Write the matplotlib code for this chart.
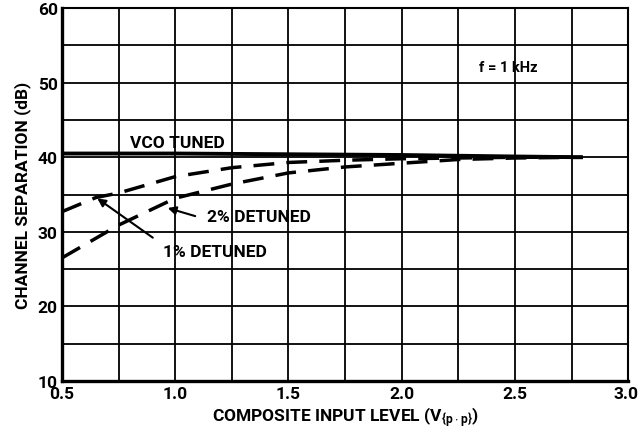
import matplotlib.pyplot as plt
import matplotlib.transforms as mtrans
import numpy as np

plt.rcParams['font.family'] = ['Roboto', 'DejaVu Sans']
plt.rcParams['mathtext.default'] = 'regular'

# values
vco_x = [0.5, 1.0, 1.5, 2.0, 2.5, 2.8]
vco_y = [40.5, 40.5, 40.4, 40.3, 40.1, 40.0]

det1_x = [0.5, 0.65, 0.75, 1.0, 1.25, 1.5, 1.75, 2.0, 2.25, 2.5, 2.8]
det1_y = [32.7, 34.6, 35.2, 37.4, 38.6, 39.3, 39.6, 39.8, 39.9, 40.0, 40.0]

det2_x = [0.5, 0.75, 1.0, 1.25, 1.5, 1.75, 2.0, 2.25, 2.5, 2.8]
det2_y = [26.5, 30.9, 34.5, 36.4, 37.9, 38.7, 39.2, 39.7, 39.9, 40.0]

fig, ax = plt.subplots(figsize=(6.39, 4.35), dpi=100)
fig.subplots_adjust(left=0.097, right=0.983, top=0.979, bottom=0.122)

ax.plot(vco_x, vco_y, color='black', lw=2.8, solid_capstyle='butt')
ax.plot(det1_x, det1_y, color='black', lw=2.5, dashes=(6, 3.5))
ax.plot(det2_x, det2_y, color='black', lw=2.5, dashes=(6, 3.5))

ax.set_xlim(0.5, 3.0)
ax.set_ylim(10, 60)
ax.set_xticks(np.arange(0.5, 3.01, 0.5))
ax.set_xticks(np.arange(0.5, 3.01, 0.25), minor=True)
ax.set_yticks(np.arange(10, 61, 10))
ax.set_yticks(np.arange(10, 61, 5), minor=True)
ax.set_xticklabels(['0.5', '1.0', '1.5', '2.0', '2.5', '3.0'])
ax.grid(True, which='both', color='black', lw=1.3)
ax.tick_params(which='both', length=0, labelsize=12.5, pad=4)
ax.tick_params(axis='y', pad=3)
for lab in ax.get_xticklabels() + ax.get_yticklabels():
    lab.set_fontweight('bold')
# keep "3.0" inside the figure edge
last = ax.get_xticklabels()[-1]
last.set_horizontalalignment('right')
last.set_transform(last.get_transform()
                   + mtrans.ScaledTranslation(10 / 100, 0, fig.dpi_scale_trans))
for s in ax.spines.values():
    s.set_linewidth(1.5)
ax.spines['left'].set_linewidth(2.4)
ax.spines['bottom'].set_linewidth(2.4)

ax.set_xlabel('COMPOSITE INPUT LEVEL (V$_{\\{p\\cdot p\\}}$)', fontsize=12.5,
              fontweight='bold', labelpad=2)
ax.set_ylabel('CHANNEL SEPARATION (dB)', fontsize=12.5, fontweight='bold',
              labelpad=5)

ax.text(0.80, 42.0, 'VCO TUNED', fontsize=12.5, fontweight='bold', va='center')
ax.text(2.34, 52.1, 'f = 1 kHz', fontsize=10.5, fontweight='bold', va='center')
ax.text(1.14, 32.0, '2% DETUNED', fontsize=12.5, fontweight='bold', va='center')
ax.text(0.946, 27.3, '1% DETUNED', fontsize=12.5, fontweight='bold', va='center')

arrow = dict(arrowstyle='-|>', color='black', lw=1.5, mutation_scale=12)
ax.annotate('', xy=(0.646, 34.7), xytext=(0.911, 29.0), arrowprops=arrow)
ax.annotate('', xy=(0.955, 33.3), xytext=(1.10, 32.0), arrowprops=arrow)

fig.savefig('out.png', dpi=100)
